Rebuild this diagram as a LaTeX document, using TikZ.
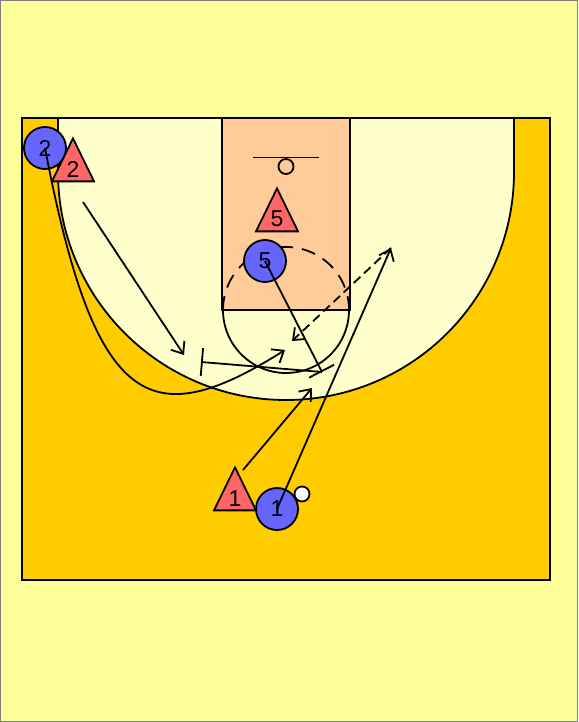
\documentclass[tikz,border=0pt]{standalone}
\usepackage{fontspec}
\setmainfont{Liberation Sans}
\usetikzlibrary{arrows.meta, shapes.geometric}

\definecolor{bgyellow}{HTML}{FFFF99}
\definecolor{courtgold}{HTML}{FFCC00}
\definecolor{arcyellow}{HTML}{FFFFCC}
\definecolor{lanepeach}{HTML}{FFCC99}
\definecolor{offblue}{HTML}{6666FF}
\definecolor{defred}{HTML}{FF6666}

\begin{document}
\begin{tikzpicture}[
    x=1pt, y=-1pt,
    font=\fontsize{23}{23}\selectfont,
    courtline/.style={line width=1.8pt},
    move/.style={line width=1.8pt, -{Straight Barb[length=10pt,width=16pt]}},
    pass/.style={move, dash pattern=on 9pt off 5pt},
    screen/.style={line width=1.8pt, -{Bar[width=28pt]}},
    offense/.style={circle, draw, line width=1.8pt, fill=offblue, minimum size=42pt, inner sep=0pt},
    defense/.style={isosceles triangle, isosceles triangle stretches, shape border rotate=90,
        draw, line width=1.8pt, fill=defred, minimum width=42pt, minimum height=43pt, inner sep=0pt},
    ball/.style={circle, draw, line width=1.8pt, fill=white, minimum size=15pt, inner sep=0pt}
]
\useasboundingbox (0,0) rectangle (578,722);

% Page and court
\draw[fill=bgyellow, draw=gray] (0.5,0.5) rectangle (577.5,721.5);
\draw[fill=courtgold, line width=2.6pt] (22,118) rectangle (550,580);

% Three point area
\draw[courtline, fill=arcyellow] (58,118) -- (58,172) arc[start angle=180, end angle=0, radius=228] -- (514,118);
\draw[line width=2.6pt] (22,118) -- (550,118);

% Lane, free throw circle, basket
\draw[courtline, fill=lanepeach] (222,118) rectangle (350,310);
\draw[courtline] (349,310) arc[start angle=0, end angle=180, radius=63];
\draw[courtline, dash pattern=on 14pt off 9pt] (223,310) arc[start angle=180, end angle=360, radius=63];
\draw[courtline] (253,157.5) -- (319,157.5);
\draw[courtline] (286,166.5) circle[radius=7.5];

% Players
\node[offense] (p2) at (45,148) {2};
\node[offense] (p5) at (265,261) {5};
\node[offense] (p1) at (277,509) {1};
\node[ball] (b) at (302,494) {};
\node[defense, anchor=apex] (d2) at (73,136) {2};
\node[defense, anchor=apex] (d5) at (277,186) {5};
\node[defense, anchor=apex] (d1) at (235,465) {1};

% Free ends of the moves
\coordinate (cut2) at (285,350);
\coordinate (d2s) at (83,202);
\coordinate (d2e) at (184,355);
\coordinate (scr5) at (322,372);
\coordinate (scr2) at (201,362);
\coordinate (cut1) at (391,248);
\coordinate (recv) at (292,341);
\coordinate (d1s) at (243,470);
\coordinate (d1e) at (312,388);

% Moves
\draw[move] (p2.center) .. controls (95,410) and (150,435) .. (cut2);
\draw[move] (d2s) -- (d2e);
\draw[screen] (p5.center) -- (scr5);
\draw[screen] (scr5) -- (scr2);
\draw[move] (p1.center) -- (cut1);
\draw[pass] (cut1) -- (recv);
\draw[move] (d1s) -- (d1e);
\end{tikzpicture}
\end{document}
